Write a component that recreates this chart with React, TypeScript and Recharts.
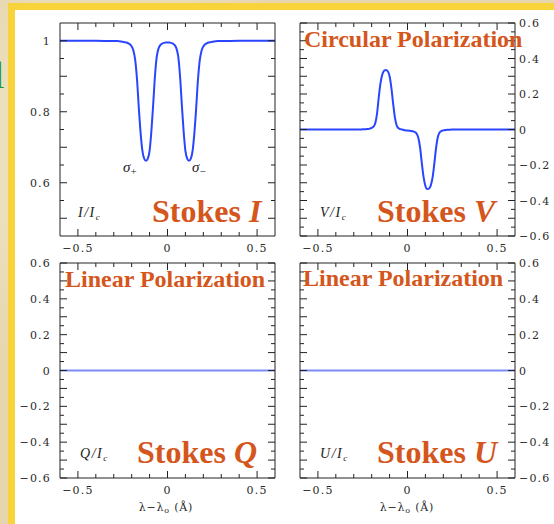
import React from 'react'
import { ComposedChart, Line, XAxis, YAxis } from 'recharts'

const W = 554
const H = 524

// wavelength offset from line centre, in Å
const lambda = [
  -0.6, -0.5, -0.4, -0.3, -0.28,
  -0.26, -0.25, -0.24, -0.23, -0.22, -0.21, -0.2, -0.19, -0.18, -0.17, -0.16, -0.15, -0.14,
  -0.13, -0.12, -0.11, -0.1, -0.09, -0.08, -0.07, -0.06, -0.05, -0.04, -0.03, -0.02, -0.01,
  0,
  0.01, 0.02, 0.03, 0.04, 0.05, 0.06, 0.07, 0.08, 0.09, 0.1, 0.11, 0.12, 0.13,
  0.14, 0.15, 0.16, 0.17, 0.18, 0.19, 0.2, 0.21, 0.22, 0.23, 0.24, 0.25, 0.26,
  0.28, 0.3, 0.4, 0.5, 0.6,
]

// Stokes I / Ic
const stokesI = [
  1, 1, 1, 0.999, 0.999,
  0.998, 0.997, 0.996, 0.995, 0.993, 0.99, 0.984, 0.972, 0.945, 0.89, 0.81, 0.74, 0.69,
  0.668, 0.662, 0.668, 0.69, 0.745, 0.82, 0.9, 0.955, 0.978, 0.988, 0.992, 0.994, 0.995,
  0.995,
  0.995, 0.994, 0.992, 0.988, 0.978, 0.955, 0.9, 0.82, 0.745, 0.69, 0.668, 0.662, 0.668,
  0.69, 0.74, 0.81, 0.89, 0.945, 0.972, 0.984, 0.99, 0.993, 0.995, 0.996, 0.997, 0.998,
  0.999, 0.999, 1, 1, 1,
]

// Stokes V / Ic
const stokesV = [
  0, 0, 0, 0, 0,
  0, 0.001, 0.001, 0.002, 0.003, 0.005, 0.009, 0.016, 0.035, 0.09, 0.185, 0.265, 0.312,
  0.332, 0.335, 0.328, 0.3, 0.235, 0.145, 0.065, 0.022, 0.007, 0.002, 0, -0.003, -0.005,
  -0.006,
  -0.007, -0.008, -0.01, -0.014, -0.022, -0.045, -0.1, -0.19, -0.27, -0.318, -0.335, -0.333, -0.315,
  -0.27, -0.19, -0.1, -0.04, -0.016, -0.008, -0.005, -0.003, -0.002, -0.001, -0.001, 0, 0,
  0, 0, 0, 0, 0,
]

// Q and U are flat (pure longitudinal field)
const flatLambda = [-0.6, -0.3, 0, 0.3, 0.6]
const stokesQ = [0, 0, 0, 0, 0]
const stokesU = [0, 0, 0, 0, 0]

const xTicks = [-0.5, -0.4, -0.3, -0.2, -0.1, 0, 0.1, 0.2, 0.3, 0.4, 0.5]
const xMajor = [-0.5, 0, 0.5]
const xLabels = [-0.5, 0, 0.5]

const iTicks = [0.5, 0.55, 0.6, 0.65, 0.7, 0.75, 0.8, 0.85, 0.9, 0.95, 1]
const iMajor = [0.5, 0.6, 0.7, 0.8, 0.9, 1]
const iLabels = [0.6, 0.8, 1]

const polTicks = [
  -0.6, -0.55, -0.5, -0.45, -0.4, -0.35, -0.3, -0.25, -0.2, -0.15, -0.1, -0.05, 0,
  0.05, 0.1, 0.15, 0.2, 0.25, 0.3, 0.35, 0.4, 0.45, 0.5, 0.55, 0.6,
]
const polMajor = [-0.6, -0.5, -0.4, -0.3, -0.2, -0.1, 0, 0.1, 0.2, 0.3, 0.4, 0.5, 0.6]
const polLabels = [-0.6, -0.4, -0.2, 0, 0.2, 0.4, 0.6]

const LINE = '#2a45ff'
const FLAT = '#7d8cf6'
const ORANGE = '#d4561c'
const INK = '#222'
const TICK_FONT = { fontFamily: 'DejaVu Serif', fontSize: 11, letterSpacing: 1.2, fill: '#2a2a2a' }

const has = (list: number[], v: number) => list.some((m) => Math.abs(m - v) < 1e-6)
const fmt = (v: number) => (v < 0 ? '\u2212' + Math.abs(v) : String(v))

type Side = 'bottom' | 'top' | 'left' | 'right'

function makeTick(side: Side, majors: number[], labels: number[] | null) {
  return (props: any) => {
    const { x, y, payload } = props
    const v = payload.value as number
    const len = has(majors, v) ? 7 : 4
    const label = labels && has(labels, v) ? fmt(v) : null
    if (side === 'bottom') {
      return (
        <g>
          <line x1={x} x2={x} y1={y} y2={y - len} stroke={INK} />
          {label && (
            <text x={x} y={y + 16} textAnchor="middle" {...TICK_FONT}>{label}</text>
          )}
        </g>
      )
    }
    if (side === 'top') {
      return <line x1={x} x2={x} y1={y} y2={y + len} stroke={INK} />
    }
    if (side === 'left') {
      return (
        <g>
          <line x1={x} x2={x + len} y1={y} y2={y} stroke={INK} />
          {label && (
            <text x={x - 9} y={y + 4} textAnchor="end" {...TICK_FONT}>{label}</text>
          )}
        </g>
      )
    }
    return (
      <g>
        <line x1={x} x2={x - len} y1={y} y2={y} stroke={INK} />
        {label && (
          <text x={x + 4} y={y + 4} textAnchor="start" {...TICK_FONT}>{label}</text>
        )}
      </g>
    )
  }
}

interface PanelProps {
  xs: number[]
  ys: number[]
  box: { left: number; top: number; right: number; bottom: number }
  yDomain: [number, number]
  yTicks: number[]
  yMajor: number[]
  yLabels: number[]
  labelSide: 'left' | 'right'
  color: string
  strokeWidth: number
}

// axes get a 1px band each; margins are reduced by that so the plot box lands on `box`
const AX = 1

function Panel({ xs, ys, box, yDomain, yTicks, yMajor, yLabels, labelSide, color, strokeWidth }: PanelProps) {
  const data = xs.map((x, i) => ({ x, y: ys[i] }))
  return (
    <div style={{ position: 'absolute', left: 0, top: 0 }}>
      <ComposedChart
        width={W}
        height={H}
        data={data}
        margin={{
          top: box.top - AX,
          left: box.left - AX,
          right: W - box.right - AX,
          bottom: H - box.bottom - AX,
        }}
      >
        <XAxis
          xAxisId="b"
          dataKey="x"
          type="number"
          domain={[-0.6, 0.6]}
          ticks={xTicks}
          interval={0}
          height={AX}
          tickSize={0}
          tickMargin={0}
          tickLine={false}
          axisLine={{ stroke: INK }}
          tick={makeTick('bottom', xMajor, xLabels)}
          allowDataOverflow
        />
        <XAxis
          xAxisId="t"
          orientation="top"
          dataKey="x"
          type="number"
          domain={[-0.6, 0.6]}
          ticks={xTicks}
          interval={0}
          height={AX}
          tickSize={0}
          tickMargin={0}
          tickLine={false}
          axisLine={{ stroke: INK }}
          tick={makeTick('top', xMajor, null)}
          allowDataOverflow
        />
        <YAxis
          yAxisId="l"
          type="number"
          domain={yDomain}
          ticks={yTicks}
          interval={0}
          width={AX}
          tickSize={0}
          tickMargin={0}
          tickLine={false}
          axisLine={{ stroke: INK }}
          tick={makeTick('left', yMajor, labelSide === 'left' ? yLabels : null)}
          allowDataOverflow
        />
        <YAxis
          yAxisId="r"
          orientation="right"
          type="number"
          domain={yDomain}
          ticks={yTicks}
          interval={0}
          width={AX}
          tickSize={0}
          tickMargin={0}
          tickLine={false}
          axisLine={{ stroke: INK }}
          tick={makeTick('right', yMajor, labelSide === 'right' ? yLabels : null)}
          allowDataOverflow
        />
        <Line
          xAxisId="b"
          yAxisId="l"
          dataKey="y"
          type="monotone"
          stroke={color}
          strokeWidth={strokeWidth}
          dot={false}
          isAnimationActive={false}
        />
      </ComposedChart>
    </div>
  )
}

const serif = 'Liberation Serif'

function StokesLabel({ x, y, letter }: { x: number; y: number; letter: string }) {
  return (
    <text x={x} y={y} fontFamily={serif} fontWeight="bold" fontSize={32} fill={ORANGE}>
      Stokes <tspan fontStyle="italic">{letter}</tspan>
    </text>
  )
}

function Ratio({ x, y, sym }: { x: number; y: number; sym: string }) {
  return (
    <text x={x} y={y} fontFamily={serif} fontStyle="italic" fontSize={14} letterSpacing={1.5} fill={INK}>
      {sym}/I<tspan fontSize={9} dy={3}>c</tspan>
    </text>
  )
}

function AxisTitle({ x, y }: { x: number; y: number }) {
  return (
    <text x={x} y={y} textAnchor="middle" fontFamily="DejaVu Serif" fontSize={11} letterSpacing={0.8} fill="#2a2a2a">
      {'\u03bb\u2212\u03bb'}
      <tspan fontSize={8} dy={2}>o</tspan>
      <tspan dy={-2}>{' (\u00c5)'}</tspan>
    </text>
  )
}

export default function App() {
  return (
    <div
      style={{
        position: 'absolute',
        left: 0,
        top: 0,
        width: W,
        height: H,
        overflow: 'hidden',
        background: '#e6d6ae',
        backgroundImage:
          'radial-gradient(circle at 20% 30%, rgba(255,250,230,0.5), transparent 40%), radial-gradient(circle at 70% 80%, rgba(200,180,130,0.35), transparent 45%)',
      }}
    >
      {/* yellow slide frame */}
      <div style={{ position: 'absolute', left: 8, top: 3, width: W - 8, height: H - 3, background: '#f9d33a' }} />
      <div style={{ position: 'absolute', left: 15, top: 10, width: W - 15, height: H - 10, background: '#ffffff' }} />

      <Panel
        xs={lambda}
        ys={stokesI}
        box={{ left: 60, top: 23, right: 275, bottom: 236 }}
        yDomain={[0.45, 1.05]}
        yTicks={iTicks}
        yMajor={iMajor}
        yLabels={iLabels}
        labelSide="left"
        color={LINE}
        strokeWidth={2}
      />
      <Panel
        xs={lambda}
        ys={stokesV}
        box={{ left: 300, top: 23, right: 515, bottom: 236 }}
        yDomain={[-0.6, 0.6]}
        yTicks={polTicks}
        yMajor={polMajor}
        yLabels={polLabels}
        labelSide="right"
        color={LINE}
        strokeWidth={2}
      />
      <Panel
        xs={flatLambda}
        ys={stokesQ}
        box={{ left: 60, top: 263, right: 275, bottom: 478 }}
        yDomain={[-0.6, 0.6]}
        yTicks={polTicks}
        yMajor={polMajor}
        yLabels={polLabels}
        labelSide="left"
        color={FLAT}
        strokeWidth={2}
      />
      <Panel
        xs={flatLambda}
        ys={stokesU}
        box={{ left: 300, top: 263, right: 515, bottom: 478 }}
        yDomain={[-0.6, 0.6]}
        yTicks={polTicks}
        yMajor={polMajor}
        yLabels={polLabels}
        labelSide="right"
        color={FLAT}
        strokeWidth={2}
      />

      <svg width={W} height={H} style={{ position: 'absolute', left: 0, top: 0 }}>
        <text x={-6} y={88} fontFamily={serif} fontSize={38} fill="#1a9a2a">l</text>

        <text x={304} y={47} fontFamily={serif} fontWeight="bold" fontSize={24} fill={ORANGE}>
          Circular Polarization
        </text>
        <text x={65} y={287} fontFamily={serif} fontWeight="bold" fontSize={24} fill={ORANGE}>
          Linear Polarization
        </text>
        <text x={303} y={286} fontFamily={serif} fontWeight="bold" fontSize={24} fill={ORANGE}>
          Linear Polarization
        </text>

        <StokesLabel x={152} y={222} letter="I" />
        <StokesLabel x={377} y={222} letter="V" />
        <StokesLabel x={137} y={463} letter="Q" />
        <StokesLabel x={377} y={463} letter="U" />

        <Ratio x={78} y={217} sym="I" />
        <Ratio x={320} y={217} sym="V" />
        <Ratio x={80} y={458} sym="Q" />
        <Ratio x={320} y={458} sym="U" />

        <text x={123} y={172} fontFamily={serif} fontStyle="italic" fontSize={15} fill={INK}>
          {'\u03c3'}<tspan fontSize={11} dy={3} fontStyle="normal">+</tspan>
        </text>
        <text x={192} y={172} fontFamily={serif} fontStyle="italic" fontSize={15} fill={INK}>
          {'\u03c3'}<tspan fontSize={11} dy={3} fontStyle="normal">{'\u2212'}</tspan>
        </text>

        <AxisTitle x={166} y={511} />
        <AxisTitle x={407} y={511} />
      </svg>
    </div>
  )
}
